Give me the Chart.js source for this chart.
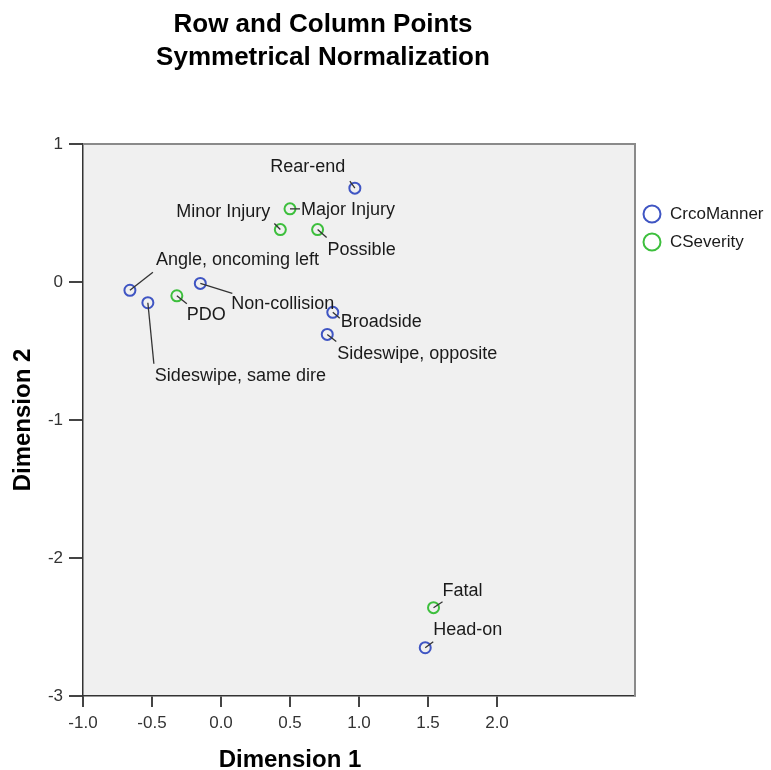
<!DOCTYPE html>
<html>
<head>
<meta charset="utf-8">
<script src="https://cdn.jsdelivr.net/npm/chart.js@4.4.1/dist/chart.umd.min.js"></script>
<style>
  html, body { margin: 0; padding: 0; background: #fff; }
  #wrap { width: 771px; height: 770px; }
</style>
</head>
<body>
<div id="wrap"><canvas id="chart" width="771" height="770"></canvas></div>
<script>
// Datos (coordenadas de dimensión)
const mannerLabels = ['Rear-end', 'Angle, oncoming left', 'Sideswipe, same dire', 'Non-collision', 'Broadside', 'Sideswipe, opposite', 'Head-on'];
const mannerDim1 = [0.97, -0.66, -0.53, -0.15, 0.81, 0.77, 1.48];
const mannerDim2 = [0.68, -0.06, -0.15, -0.01, -0.22, -0.38, -2.65];

const severityLabels = ['Major Injury', 'Minor Injury', 'Possible', 'PDO', 'Fatal'];
const severityDim1 = [0.50, 0.43, 0.70, -0.32, 1.54];
const severityDim2 = [0.53, 0.38, 0.38, -0.10, -2.36];

const xTicks = [-1.0, -0.5, 0.0, 0.5, 1.0, 1.5, 2.0];
const yTicks = [-3, -2, -1, 0, 1];

const seriesNames = ['CrcoManner', 'CSeverity'];
const blue = '#3f55c3';
const green = '#3dbf3d';

// Posición de etiquetas: [dx texto, dy texto, alineación, dx línea, dy línea]
const mannerLabelPos = [
    [-47, -21, 'center', -5, -7],
    [26, -30, 'left', 23, -18],
    [7, 73, 'left', 6, 61],
    [31, 21, 'left', 32, 10],
    [8, 10, 'left', 7, 6],
    [10, 20, 'left', 9, 7],
    [8, -18, 'left', 8, -6]
];
const severityLabelPos = [
    [11, 1, 'left', 10, 0],
    [-10, -18, 'right', -6, -6],
    [10, 20, 'left', 9, 8],
    [10, 19, 'left', 10, 8],
    [9, -17, 'left', 9, -6]
];

const FONT = '"Liberation Sans", Arial, sans-serif';

const toPoints = (xs, ys) => xs.map((x, i) => ({ x: x, y: ys[i] }));

const extras = {
    id: 'extras',
    beforeDraw(chart) {
        const { ctx, chartArea: a } = chart;
        ctx.save();
        ctx.fillStyle = '#f0f0f0';
        ctx.fillRect(a.left, a.top, a.right - a.left, a.bottom - a.top);
        ctx.restore();
    },
    afterDatasetsDraw(chart) {
        const { ctx, chartArea: a } = chart;
        ctx.save();
        // marco superior y derecho
        ctx.strokeStyle = '#8a8a8a';
        ctx.lineWidth = 2;
        ctx.beginPath();
        ctx.moveTo(a.left, a.top);
        ctx.lineTo(a.right, a.top);
        ctx.lineTo(a.right, a.bottom);
        ctx.stroke();

        // etiquetas con líneas guía
        const groups = [[mannerLabels, mannerLabelPos], [severityLabels, severityLabelPos]];
        ctx.font = '18px ' + FONT;
        ctx.textBaseline = 'middle';
        groups.forEach(([labels, pos], di) => {
            const meta = chart.getDatasetMeta(di);
            meta.data.forEach((pt, i) => {
                const p = pos[i];
                ctx.strokeStyle = '#333';
                ctx.lineWidth = 1.3;
                ctx.beginPath();
                ctx.moveTo(pt.x, pt.y);
                ctx.lineTo(pt.x + p[3], pt.y + p[4]);
                ctx.stroke();
                ctx.fillStyle = '#1a1a1a';
                ctx.textAlign = p[2];
                ctx.fillText(labels[i], pt.x + p[0], pt.y + p[1]);
            });
        });

        // leyenda
        const colors = [blue, green];
        seriesNames.forEach((name, i) => {
            const y = 214 + i * 28;
            ctx.strokeStyle = colors[i];
            ctx.lineWidth = 2;
            ctx.beginPath();
            ctx.arc(652, y, 8.5, 0, Math.PI * 2);
            ctx.stroke();
            ctx.fillStyle = '#1a1a1a';
            ctx.textAlign = 'left';
            ctx.font = '17px ' + FONT;
            ctx.fillText(name, 670, y);
        });

        // títulos
        ctx.fillStyle = '#000';
        ctx.textAlign = 'center';
        ctx.font = 'bold 26px ' + FONT;
        ctx.fillText('Row and Column Points', 323, 25);
        ctx.fillText('Symmetrical Normalization', 323, 58);

        ctx.font = 'bold 24px ' + FONT;
        const xs = chart.scales.x;
        ctx.fillText('Dimension 1', (xs.getPixelForValue(xTicks[0]) + xs.getPixelForValue(xTicks[xTicks.length - 1])) / 2, 760);
        ctx.translate(23, (a.top + a.bottom) / 2);
        ctx.rotate(-Math.PI / 2);
        ctx.fillText('Dimension 2', 0, 0);
        ctx.restore();
    }
};

new Chart(document.getElementById('chart'), {
    type: 'scatter',
    data: {
        datasets: [
            {
                label: seriesNames[0],
                data: toPoints(mannerDim1, mannerDim2),
                borderColor: blue,
                backgroundColor: 'rgba(0,0,0,0)',
                pointRadius: 5.5,
                pointBorderWidth: 2,
                pointHoverRadius: 5.5
            },
            {
                label: seriesNames[1],
                data: toPoints(severityDim1, severityDim2),
                borderColor: green,
                backgroundColor: 'rgba(0,0,0,0)',
                pointRadius: 5.5,
                pointBorderWidth: 2,
                pointHoverRadius: 5.5
            }
        ]
    },
    options: {
        responsive: false,
        animation: false,
        events: [],
        layout: { padding: { left: 0, top: 144, right: 136, bottom: 0 } },
        plugins: { legend: { display: false }, tooltip: { enabled: false } },
        scales: {
            x: {
                type: 'linear',
                min: -1,
                max: 3,
                afterBuildTicks: s => { s.ticks = xTicks.map(v => ({ value: v })); },
                afterFit: s => { s.height = 74; },
                ticks: {
                    callback: v => Number(v).toFixed(1),
                    font: { family: FONT, size: 17 },
                    color: '#333',
                    padding: 6,
                    maxRotation: 0
                },
                grid: { display: true, drawOnChartArea: false, drawTicks: true, tickLength: 11, color: '#444', lineWidth: 2 },
                border: { display: true, color: '#333', width: 1.5 }
            },
            y: {
                type: 'linear',
                min: -3,
                max: 1,
                afterBuildTicks: s => { s.ticks = yTicks.map(v => ({ value: v })); },
                afterFit: s => { s.width = 83; },
                ticks: {
                    callback: v => String(v),
                    font: { family: FONT, size: 17 },
                    color: '#333',
                    padding: 6
                },
                grid: { display: true, drawOnChartArea: false, drawTicks: true, tickLength: 14, color: '#444', lineWidth: 2 },
                border: { display: true, color: '#333', width: 1.5 }
            }
        }
    },
    plugins: [extras]
});
</script>
</body>
</html>
